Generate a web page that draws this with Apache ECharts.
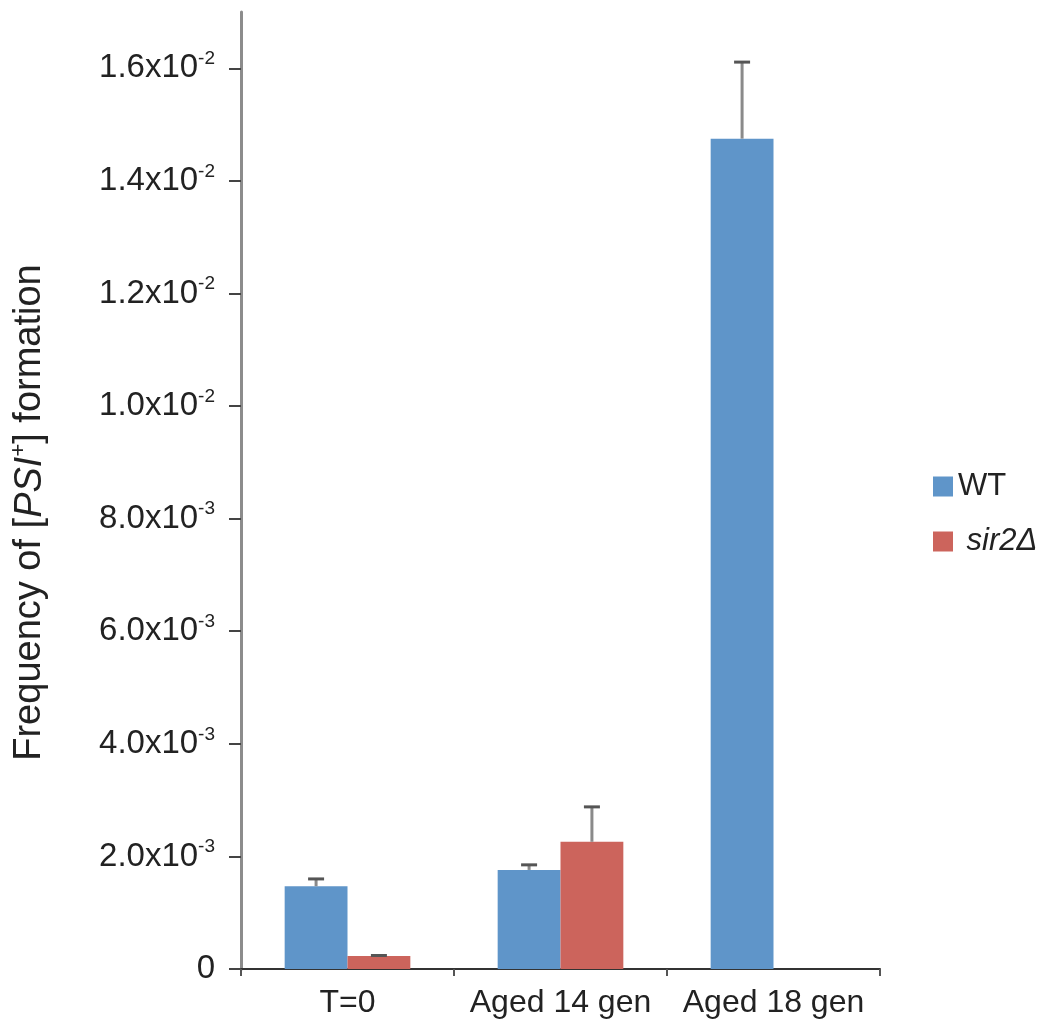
<!DOCTYPE html>
<html>
<head>
<meta charset="utf-8">
<script src="https://cdn.jsdelivr.net/npm/echarts@6/dist/echarts.min.js"></script>
<style>html,body{margin:0;padding:0;background:#fff}#c{width:1042px;height:1030px}</style>
</head>
<body>
<div id="c"></div>
<script>
var categories = ['T=0', 'Aged 14 gen', 'Aged 18 gen'];
var seriesNames = ['WT', 'sir2Δ'];
var wtValues = [1.47e-3, 1.76e-3, 14.75e-3];
var wtErrors = [0.13e-3, 0.09e-3, 1.36e-3];
var sirValues = [0.23e-3, 2.26e-3, null];
var sirErrors = [0.01e-3, 0.62e-3, null];
var tickValues = [0, 0.002, 0.004, 0.006, 0.008, 0.010, 0.012, 0.014, 0.016];
var tickMantissa = ['0', '2.0', '4.0', '6.0', '8.0', '1.0', '1.2', '1.4', '1.6'];
var tickExponent = ['', '-3', '-3', '-3', '-3', '-2', '-2', '-2', '-2'];

var FONT = 'Liberation Sans, Arial, sans-serif';
var colors = ['#5F95C9', '#CC645C'];
var gapPct = 0.41;

function errData(vals, errs) {
  var out = [];
  for (var i = 0; i < vals.length; i++) {
    if (vals[i] != null) out.push([i, vals[i], errs[i]]);
  }
  return out;
}

function makeErrRender(sIdx) {
  return function (params, api) {
    var ci = api.value(0), v = api.value(1), e = api.value(2);
    var base = api.coord([ci, v]);
    var top = api.coord([ci, v + e]);
    var band = api.size([1, 0])[0];
    var bw = band * (1 - gapPct) / 2;
    var x = base[0] + (sIdx === 0 ? -bw / 2 : bw / 2);
    var capHalf = 8;
    return {
      type: 'group',
      children: [
        {type: 'line', shape: {x1: x, y1: base[1], x2: x, y2: top[1]},
         style: {stroke: '#8a8a8a', lineWidth: 3}},
        {type: 'line', shape: {x1: x - capHalf, y1: top[1], x2: x + capHalf, y2: top[1]},
         style: {stroke: '#555', lineWidth: 3}}
      ]
    };
  };
}

var chart = echarts.init(document.getElementById('c'), null, {renderer: 'canvas'});
chart.setOption({
  animation: false,
  backgroundColor: '#fff',
  color: colors,
  textStyle: {fontFamily: FONT},
  grid: {left: 241, right: 162, top: 12, bottom: 61, containLabel: false, outerBoundsMode: 'none'},
  legend: {
    orient: 'vertical',
    left: 928,
    top: 466,
    itemWidth: 20,
    itemHeight: 20,
    itemGap: 24,
    icon: 'rect',
    data: seriesNames,
    formatter: function (name) {
      return name === 'WT' ? '{n|' + name + '}' : '{i| ' + name + '}';
    },
    textStyle: {
      fontFamily: FONT,
      color: '#222',
      rich: {
        n: {fontSize: 31, fontFamily: FONT, color: '#222'},
        i: {fontSize: 31, fontFamily: FONT, fontStyle: 'italic', color: '#222'}
      }
    }
  },
  xAxis: {
    type: 'category',
    data: categories,
    axisLine: {lineStyle: {color: '#333', width: 2}},
    axisTick: {show: true, length: 7, lineStyle: {color: '#555', width: 2}},
    axisLabel: {interval: 0, fontSize: 32, color: '#222', fontFamily: FONT, margin: 18}
  },
  yAxis: {
    type: 'value',
    min: 0,
    max: 0.017,
    interval: 0.002,
    splitLine: {show: false},
    name: 'Frequency of [{i|PSI}{s|+}] formation',
    nameLocation: 'middle',
    nameRotate: 90,
    nameGap: 189,
    nameTextStyle: {
      fontSize: 38, color: '#222', fontFamily: FONT,
      padding: [0, 44, 0, 0],
      rich: {
        i: {fontSize: 38, fontStyle: 'italic', fontFamily: FONT, color: '#222'},
        s: {fontSize: 22, fontFamily: FONT, color: '#222', verticalAlign: 'top', lineHeight: 44}
      }
    },
    axisLine: {show: true, lineStyle: {color: '#8c8c8c', width: 3}},
    axisTick: {show: true, length: 12, customValues: tickValues, lineStyle: {color: '#444', width: 2}},
    axisLabel: {
      customValues: tickValues,
      margin: 26,
      fontFamily: FONT,
      formatter: function (val) {
        var idx = -1;
        for (var i = 0; i < tickValues.length; i++) {
          if (Math.abs(tickValues[i] - val) < 1e-9) idx = i;
        }
        if (idx < 0) return '';
        if (!tickExponent[idx]) return '{a|' + tickMantissa[idx] + '}';
        return '{a|' + tickMantissa[idx] + 'x10}{s|' + tickExponent[idx] + '}';
      },
      rich: {
        a: {fontSize: 33, color: '#222', fontFamily: FONT, lineHeight: 38},
        s: {fontSize: 19, color: '#222', fontFamily: FONT, verticalAlign: 'top', lineHeight: 38}
      }
    }
  },
  series: [
    {name: seriesNames[0], type: 'bar', data: wtValues, barGap: '0%', barCategoryGap: '41%', itemStyle: {color: colors[0]}},
    {name: seriesNames[1], type: 'bar', data: sirValues, barGap: '0%', barCategoryGap: '41%', itemStyle: {color: colors[1]}},
    {type: 'custom', renderItem: makeErrRender(0), data: errData(wtValues, wtErrors), z: 5, silent: true},
    {type: 'custom', renderItem: makeErrRender(1), data: errData(sirValues, sirErrors), z: 5, silent: true}
  ]
});
</script>
</body>
</html>
